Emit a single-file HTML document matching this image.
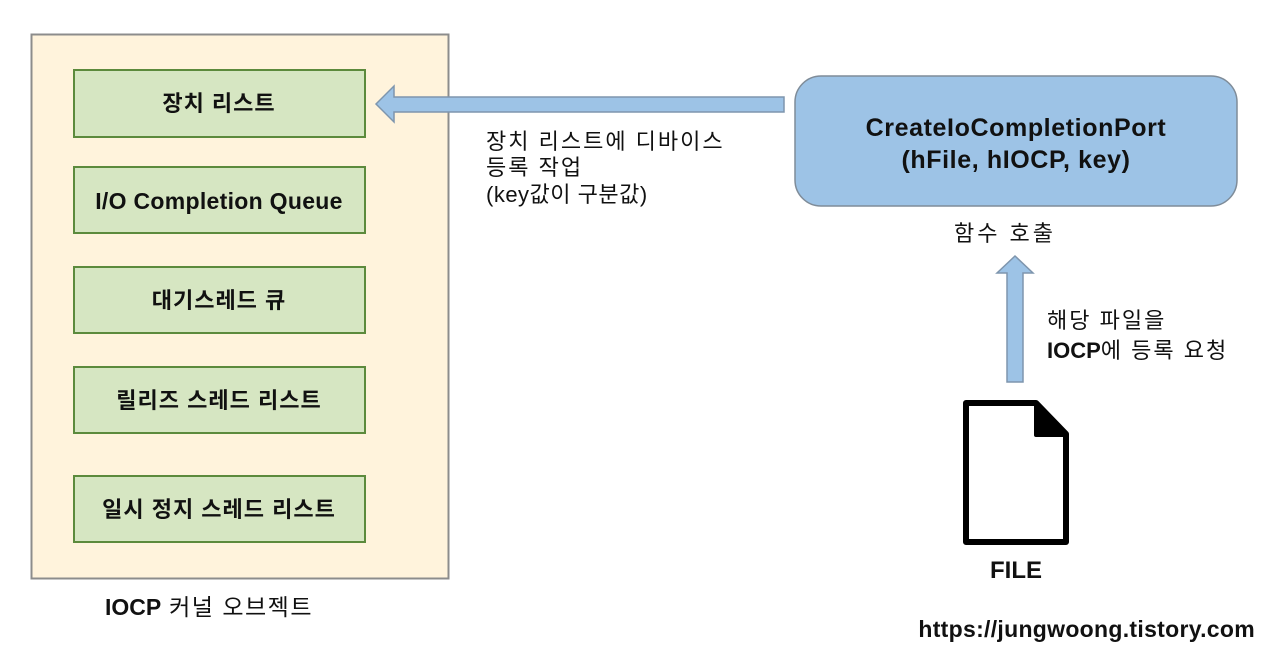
<!DOCTYPE html>
<html><head><meta charset="utf-8"><style>
html,body{margin:0;padding:0;background:#fff;width:1280px;height:652px;overflow:hidden}
text{font-family:"Liberation Sans","Noto Sans CJK KR",sans-serif}
</style></head><body>
<svg width="1280" height="652" xmlns="http://www.w3.org/2000/svg">
<rect x="31.5" y="34.5" width="417" height="544" fill="#fff3dc" stroke="#8c8c8c" stroke-width="2"/>
<g fill="#d6e6c2" stroke="#5c8a3c" stroke-width="2">
<rect x="74" y="70" width="291" height="67"/>
<rect x="74" y="167" width="291" height="66"/>
<rect x="74" y="267" width="291" height="66"/>
<rect x="74" y="367" width="291" height="66"/>
<rect x="74" y="476" width="291" height="66"/>
</g>
<g font-size="22" font-weight="bold" fill="#111" text-anchor="middle" letter-spacing="1">
<text x="219" y="111">장치 리스트</text>
<text x="219" y="209" font-size="23" letter-spacing="0.3">I/O Completion Queue</text>
<text x="219" y="308">대기스레드 큐</text>
<text x="219" y="408">릴리즈 스레드 리스트</text>
<text x="219" y="517">일시 정지 스레드 리스트</text>
</g>
<text x="209" y="615" font-size="23" fill="#111" text-anchor="middle" letter-spacing="1.5"><tspan font-weight="bold" letter-spacing="0">IOCP</tspan> 커널 오브젝트</text>
<polygon points="376,104 394,86 394,97 784,97 784,112 394,112 394,122" fill="#9dc3e6" stroke="#7e95ad" stroke-width="1.5"/>
<g font-size="22" fill="#111" letter-spacing="2">
<text x="486" y="149">장치 리스트에 디바이스</text>
<text x="486" y="175">등록 작업</text>
<text x="486" y="202" letter-spacing="0.5">(key값이 구분값)</text>
</g>
<rect x="795" y="76" width="442" height="130" rx="26" fill="#9dc3e6" stroke="#7f8c99" stroke-width="1.5"/>
<g font-size="25" font-weight="bold" fill="#111" text-anchor="middle" letter-spacing="0.6">
<text x="1016" y="136">CreateIoCompletionPort</text>
<text x="1016" y="168">(hFile, hIOCP, key)</text>
</g>
<text x="1005" y="241" font-size="22" fill="#111" text-anchor="middle" letter-spacing="3">함수 호출</text>
<polygon points="1015,256 1033,273 1023,273 1023,382 1007,382 1007,273 997,273" fill="#9dc3e6" stroke="#7e95ad" stroke-width="1.5"/>
<g font-size="22" fill="#111" letter-spacing="2">
<text x="1047" y="328">해당 파일을</text>
<text x="1047" y="358"><tspan font-weight="bold" letter-spacing="0">IOCP</tspan>에 등록 요청</text>
</g>
<path d="M966,403 H1036 L1066,434 V542 H966 Z" fill="#fff" stroke="#000" stroke-width="6" stroke-linejoin="round"/>
<polygon points="1036,403 1036,435 1066,435" fill="#000" stroke="#000" stroke-width="4" stroke-linejoin="round"/>
<text x="1016" y="578" font-size="24" font-weight="bold" fill="#111" text-anchor="middle">FILE</text>
<text x="1255" y="637" font-size="23" font-weight="bold" fill="#111" text-anchor="end" font-family="DejaVu Sans, sans-serif" letter-spacing="0.3">https://jungwoong.tistory.com</text>
</svg>
</body></html>
